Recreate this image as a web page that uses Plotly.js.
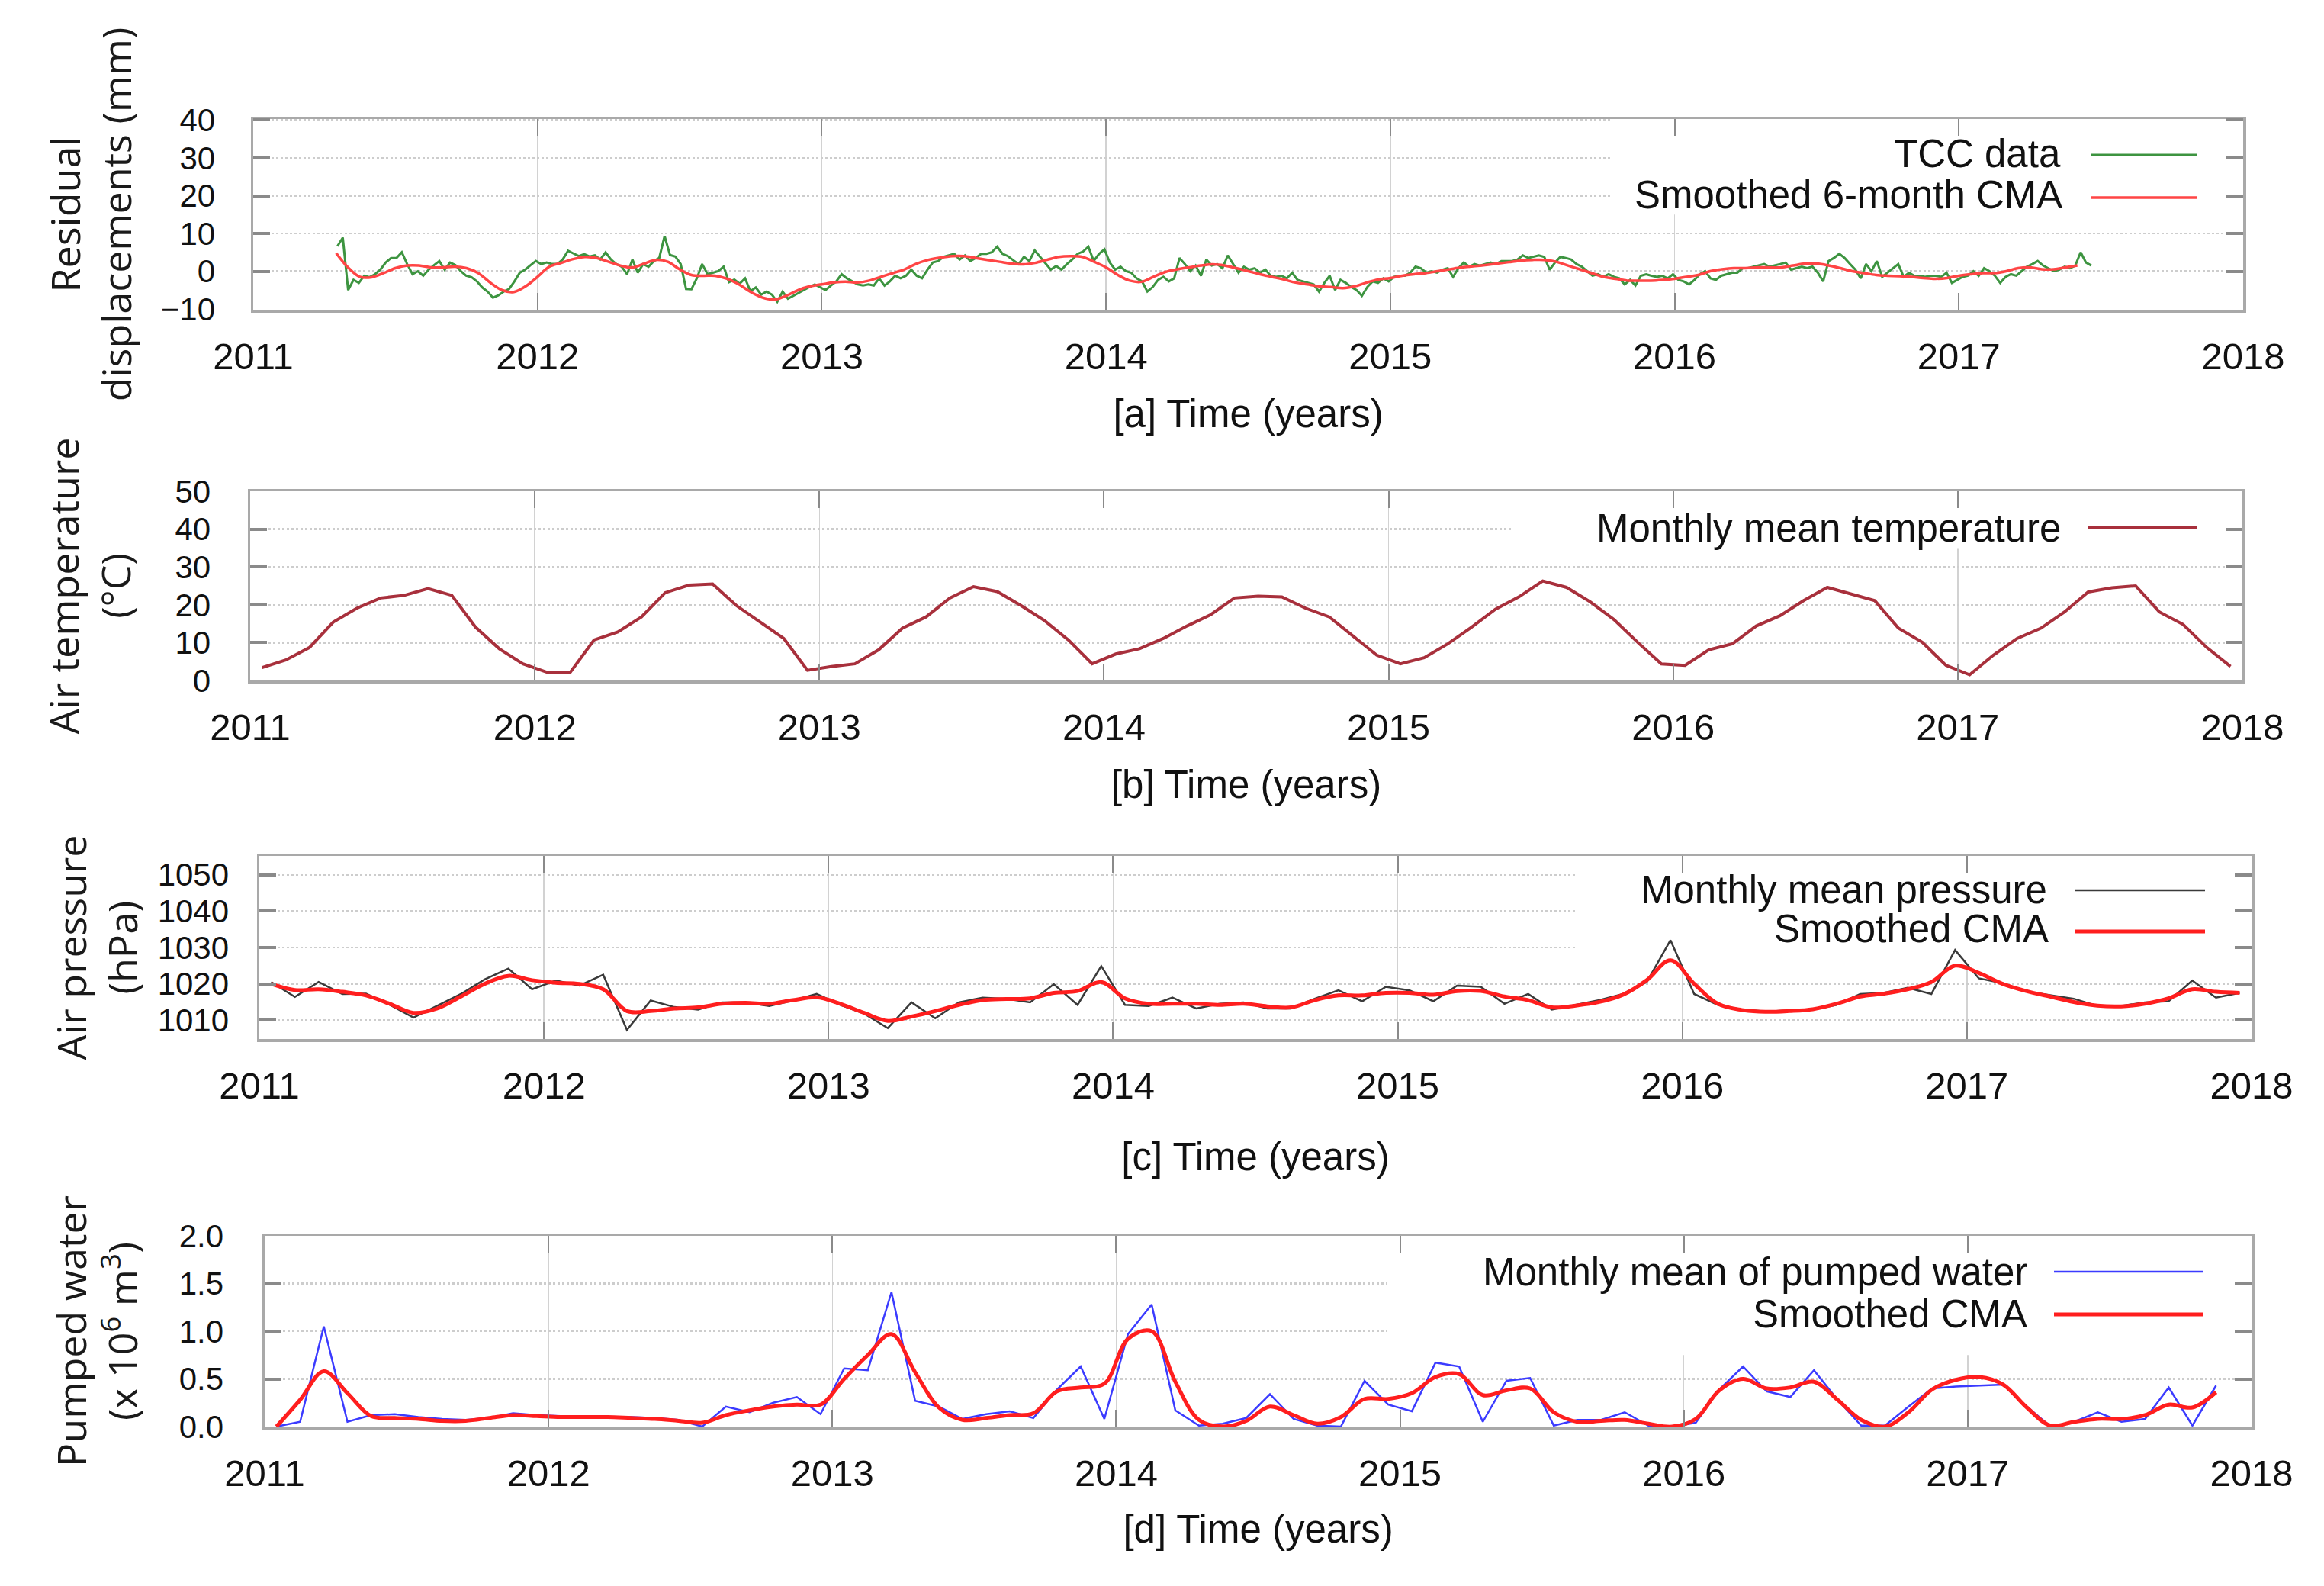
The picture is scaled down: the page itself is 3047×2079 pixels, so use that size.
<!DOCTYPE html>
<html><head><meta charset="utf-8">
<script src="https://cdn.plot.ly/plotly-3.0.1.min.js"></script>
<style>html,body{margin:0;padding:0;background:#fff;}#chart{width:3047px;height:2079px;}</style>
</head><body><div id="chart"></div>
<script>
// ---------------- DATA ----------------
// [a] TCC residual displacements (mm), ~weekly samples
const tccStart = 2011.2962;
const tccStep = 0.018868;
const tccValues = [
 6.6, 8.9, -5.0, -2.3, -3.1, -1.2, -1.6, -0.8, 0.4, 2.3,
 3.5, 3.5, 5.0, 1.9, -0.8, 0.0, -1.2, 0.4, 1.6, 2.7,
 0.4, 2.3, 1.6, 0.0, -1.2, -1.6, -2.7, -4.3, -5.4, -7.0,
 -6.4, -5.4, -4.7, -2.7, -0.4, 0.4, 1.6, 2.7, 1.9, 2.3,
 1.9, 1.9, 3.1, 5.4, 4.7, 4.0, 4.5, 3.9, 4.2, 3.1,
 5.0, 3.1, 1.9, 1.2, -0.8, 3.1, -0.4, 1.9, 1.2, 2.7,
 3.5, 9.3, 4.3, 3.9, 1.9, -4.7, -4.8, -1.9, 1.9, -0.8,
 -0.4, 0.0, 1.2, -2.9, -2.2, -3.3, -1.9, -5.3, -4.3, -6.2,
 -5.4, -6.2, -8.1, -5.4, -7.3, -6.5, -5.8, -5.0, -4.2, -3.5,
 -4.2, -5.0, -3.8, -2.7, -0.8, -1.9, -2.7, -3.5, -3.8, -3.5,
 -3.8, -1.9, -3.8, -2.7, -1.2, -1.9, -1.2, 0.4, -1.2, -1.9,
 0.4, 2.3, 2.7, 3.8, 4.2, 4.6, 3.1, 4.2, 2.7, 3.5,
 4.6, 4.6, 5.0, 6.5, 4.6, 4.0, 2.9, 1.9, 3.8, 2.7,
 5.5, 3.8, 1.9, 0.4, 1.4, 0.4, 1.9, 3.1, 4.6, 5.2,
 6.5, 2.7, 4.6, 5.8, 2.3, 0.4, 1.2, 0.0, -0.4, -1.9,
 -2.7, -5.4, -4.2, -2.3, -1.5, -2.7, -1.9, 3.5, 1.9, 0.0,
 1.5, -1.2, 3.1, 1.5, 1.9, 0.8, 4.2, 1.9, -0.4, 1.2,
 0.4, 0.8, -0.4, 0.4, -1.2, -1.5, -1.2, -1.9, -0.4, -2.3,
 -2.7, -3.1, -3.5, -5.4, -3.1, -1.2, -5.0, -2.3, -3.1, -4.2,
 -5.0, -6.5, -4.2, -2.7, -3.1, -1.9, -2.7, -1.5, -1.2, -1.2,
 -0.4, 1.2, 0.8, -0.4, 0.0, -0.4, 0.4, 0.8, -1.5, 0.8,
 2.3, 1.2, 1.9, 1.5, 1.9, 2.3, 1.9, 2.7, 2.7, 2.7,
 3.1, 4.2, 3.5,
 3.8, 4.2, 3.8, 0.4, 2.3, 3.8, 3.5, 3.1, 1.9, 1.2,
 0.0, -1.2, -0.8, -1.5, -0.8, -1.5, -1.9, -3.5, -2.3, -3.8,
 -1.2, -0.8, -1.2, -1.5, -1.2, -1.9, -0.8, -2.3, -2.7, -3.5,
 -2.3, -0.8, 0.0, -1.9, -2.3, -1.2, -0.8, -0.4, -0.4, 0.8,
 0.8, 1.2, 1.5, 1.9, 1.2, 1.5, 1.9, 2.3, 0.4, 0.8,
 1.2, 0.8, 1.2, -0.4, -2.7, 2.7, 3.5, 4.6, 3.5, 1.9,
 0.4, -1.9, 1.9, 0.0, 2.7, -1.5, -0.4, 0.8, 1.9, -1.5,
 -0.4, -1.2, -1.2, -1.5, -1.2, -1.2, -1.5, -0.4, -3.1, -2.3,
 -1.5, -1.2, 0.0, -1.2, 0.8, 0.0, -1.2, -3.1, -1.5, -0.8,
 -1.2, 0.0, 1.2, 1.9, 2.7, 1.5, 0.8, 0.0, 0.4, 1.2,
 0.8, 1.5, 5.0, 2.3, 1.5
];
// [a] Smoothed 6-month CMA, half-month samples
const cmaAStart = 2011.2917;
const cmaAStep = 1 / 24;
const cmaAValues = [
 4.8, 1.0, -1.5, -1.6, -0.5, 0.8, 1.5, 1.5, 1.0, 1.0,
 1.2, 0.8, -0.5, -3.0, -5.0, -5.5, -4.0, -1.5, 1.2, 2.2,
 3.2, 3.8, 3.5, 2.5, 1.5, 1.0, 2.0, 3.0, 2.5, 0.5,
 -1.0, -1.2, -1.2, -2.0, -3.5, -5.5, -7.0, -7.5, -6.5, -5.0,
 -4.0, -3.5, -3.0, -2.8, -3.0, -2.5, -1.5, -0.5, 0.5, 2.0,
 3.0, 3.6, 4.0, 4.0, 3.5, 3.0, 2.5, 2.0, 1.8, 2.2,
 3.0, 3.8, 4.0, 3.8, 2.5, 1.0, -1.0, -2.5, -2.8, -1.5,
 -0.2, 0.5, 1.0, 1.5, 1.8, 1.5, 0.8, 0.0, -0.8, -1.5,
 -2.2, -3.0, -3.5, -4.0, -4.2, -4.5, -4.0, -3.0, -2.2, -1.8,
 -1.2, -0.8, -0.5, 0.0, 0.5, 1.0, 1.3, 1.6, 2.0, 2.4,
 2.8, 3.0, 3.0, 2.5, 1.5, 0.5, -0.5, -1.5, -2.0, -2.5,
 -2.5, -2.5, -2.3, -2.0, -1.5, -1.0, 0.0, 0.5, 0.8, 0.8,
 1.0, 1.0, 1.0, 1.5, 2.0, 2.0, 1.5, 0.8, 0.0, -0.5,
 -1.0, -1.2, -1.3, -1.5, -1.8, -2.0, -1.8, -1.2, -0.8, -0.5,
 -0.5, 0.0, 0.8, 1.0, 0.5, 0.5, 1.0, 1.5
];
// monthly series, Jan 2011 onwards (mid-month)
const monthStart = 2011 + 1 / 24;
const monthStep = 1 / 12;
// [b] Monthly mean temperature (°C)
const temperature = [
 3.4, 5.4, 8.7, 15.4, 19.1, 21.8, 22.5, 24.3, 22.5, 14.1, 8.4, 4.4,
 2.2, 2.2, 10.7, 12.8, 16.8, 23.2, 25.2, 25.5, 19.8, 15.4, 11.1, 2.7,
 3.7, 4.4, 8.1, 13.8, 16.8, 21.8, 24.8, 23.5, 19.8, 15.8, 10.7, 4.4,
 7.0, 8.4, 11.1, 14.4, 17.4, 21.8, 22.3, 22.1, 19.1, 16.8, 11.7, 6.7,
 4.4, 6.0, 9.7, 14.1, 18.8, 22.1, 26.3, 24.6, 20.8, 16.1, 10.1, 4.4,
 4.0, 8.1, 9.7, 14.4, 17.1, 21.1, 24.6, 22.8, 21.1, 13.8, 10.1, 4.0,
 1.5, 6.7, 11.1, 13.8, 18.1, 23.4, 24.5, 25.0, 18.1, 14.8, 8.7, 3.7
];
// [c] Monthly mean pressure (hPa)
const pressure = [
 1020.5, 1016.4, 1020.5, 1017.2, 1017.3, 1014.2, 1010.7, 1013.9, 1017.2, 1021.2, 1024.2, 1018.5,
 1020.9, 1019.5, 1022.5, 1007.3, 1015.4, 1013.6, 1012.9, 1014.9, 1014.9, 1013.9, 1015.4, 1017.2,
 1014.2, 1011.8, 1007.8, 1014.9, 1010.5, 1014.9, 1016.2, 1015.9, 1014.9, 1019.9, 1014.2, 1024.9,
 1014.2, 1013.9, 1016.2, 1013.2, 1014.5, 1014.9, 1013.2, 1013.2, 1015.9, 1018.2, 1015.2, 1019.2,
 1018.2, 1015.2, 1019.5, 1019.2, 1014.5, 1017.2, 1012.9, 1014.2, 1015.5, 1017.2, 1020.5, 1032.0,
 1017.2, 1014.2, 1012.9, 1012.4, 1012.6, 1012.9, 1014.2, 1017.2, 1017.5, 1018.9, 1017.2, 1029.3,
 1021.5, 1020.2, 1017.9, 1016.9, 1015.9, 1013.9, 1013.9, 1014.9, 1015.2, 1020.9, 1016.2, 1017.5
];
const pressureCMA = [
 1020.0, 1018.3, 1018.5, 1017.8, 1016.8, 1014.5, 1012.0, 1013.2, 1016.5, 1020.0, 1022.2, 1021.0,
 1020.3, 1020.0, 1018.5, 1012.5, 1012.5, 1013.2, 1013.5, 1014.5, 1014.8, 1014.5, 1015.5, 1016.3,
 1014.5, 1012.0, 1009.8, 1011.0, 1012.5, 1014.2, 1015.5, 1015.8, 1016.0, 1017.5, 1018.0, 1020.5,
 1016.0, 1014.5, 1014.5, 1014.5, 1014.2, 1014.5, 1013.8, 1013.5, 1015.5, 1016.8, 1016.8, 1017.5,
 1017.5, 1017.0, 1018.0, 1018.0, 1016.5, 1015.5, 1013.5, 1014.0, 1015.0, 1017.0, 1021.0, 1026.5,
 1020.0, 1014.5, 1012.8, 1012.3, 1012.5, 1013.0, 1014.5, 1016.5, 1017.3, 1018.5, 1020.5, 1025.0,
 1023.0, 1020.0, 1018.0, 1016.5, 1015.0, 1014.0, 1013.8, 1014.5, 1016.0, 1018.5, 1017.8, 1017.5
];
// [d] Monthly mean of pumped water (x 10^6 m3)
const pumped = [
 0.00, 0.05, 1.05, 0.05, 0.12, 0.13, 0.10, 0.08, 0.07, 0.09, 0.14, 0.12,
 0.11, 0.10, 0.10, 0.10, 0.09, 0.07, 0.00, 0.21, 0.15, 0.25, 0.31, 0.13,
 0.61, 0.59, 1.41, 0.27, 0.21, 0.08, 0.13, 0.16, 0.09, 0.39, 0.63, 0.08,
 0.97, 1.28, 0.17, 0.01, 0.03, 0.09, 0.34, 0.08, 0.01, 0.00, 0.48, 0.23,
 0.16, 0.67, 0.63, 0.05, 0.48, 0.51, 0.01, 0.07, 0.07, 0.15, 0.01, 0.00,
 0.04, 0.39, 0.63, 0.37, 0.31, 0.59, 0.28, 0.01, 0.01, 0.21, 0.40, 0.42,
 0.43, 0.44, 0.21, 0.00, 0.05, 0.15, 0.05, 0.08, 0.41, 0.01, 0.43
];
const pumpedCMA = [
 0.00, 0.28, 0.58, 0.35, 0.11, 0.09, 0.08, 0.06, 0.06, 0.09, 0.12, 0.11,
 0.10, 0.10, 0.10, 0.09, 0.08, 0.06, 0.04, 0.12, 0.17, 0.21, 0.23, 0.23,
 0.50, 0.75, 0.97, 0.57, 0.20, 0.07, 0.09, 0.12, 0.14, 0.37, 0.41, 0.45,
 0.92, 1.00, 0.47, 0.07, 0.00, 0.06, 0.21, 0.12, 0.03, 0.10, 0.29, 0.29,
 0.35, 0.52, 0.55, 0.33, 0.38, 0.40, 0.15, 0.05, 0.06, 0.07, 0.03, 0.00,
 0.08, 0.38, 0.50, 0.40, 0.41, 0.47, 0.28, 0.07, 0.00, 0.15, 0.39, 0.49,
 0.52, 0.44, 0.20, 0.01, 0.05, 0.08, 0.08, 0.12, 0.23, 0.20, 0.36
];
const yearTicks = [2011, 2012, 2013, 2014, 2015, 2016, 2017, 2018];
const ticksA = [-10, 0, 10, 20, 30, 40];
const ticksB = [0, 10, 20, 30, 40, 50];
const ticksC = [1010, 1020, 1030, 1040, 1050];
const ticksD = [0, 0.5, 1.0, 1.5, 2.0];

// ---------------- STYLE ----------------
const W = 3047, H = 2079;
const TICKFONT = '"Liberation Sans", Arial, sans-serif';
const YTFONT = '"Open Sans", "Noto Sans", sans-serif';
const px = v => v / W, py = v => 1 - v / H;

function xAx(dom, anchor, title, tstand) {
  return {
    domain: dom, anchor: anchor, range: [2011, 2018], tickvals: yearTicks,
    tickformat: 'd', showgrid: true, gridcolor: '#d2d2d2', gridwidth: 1.5,
    showline: true, mirror: 'allticks', linecolor: '#a9a9a9', linewidth: 3.5,
    ticks: 'inside', ticklen: 22, tickwidth: 2, tickcolor: '#8a8a8a',
    tickfont: {family: TICKFONT, size: 49, color: '#111'}, ticklabelstandoff: 16,
    zeroline: false, automargin: false,
    title: {text: title, font: {family: TICKFONT, size: 51, color: '#111'}, standoff: tstand}
  };
}
function yAx(dom, anchor, range, vals, title, fmt, stand, tstand) {
  return {
    domain: dom, anchor: anchor, range: range, tickvals: vals, tickformat: fmt,
    showgrid: true, gridcolor: '#cdcdcd', gridwidth: 2.5, griddash: 'dot',
    showline: true, mirror: 'allticks', linecolor: '#a9a9a9', linewidth: 3.5,
    ticks: 'inside', ticklen: 22, tickwidth: 4, tickcolor: '#8a8a8a',
    tickfont: {family: TICKFONT, size: 42, color: '#111'}, ticklabelstandoff: stand,
    zeroline: false, automargin: false,
    title: {text: title, font: {family: YTFONT, size: 52, color: '#1a1a1a'}, standoff: tstand}
  };
}

const traces = [
  {x0: tccStart, dx: tccStep, y: tccValues, xaxis: 'x', yaxis: 'y', name: 'TCC data',
   line: {color: '#3d9440', width: 3}},
  {x0: cmaAStart, dx: cmaAStep, y: cmaAValues, xaxis: 'x', yaxis: 'y', name: 'Smoothed 6-month CMA',
   line: {color: '#ff4545', width: 3.5, shape: 'spline', smoothing: 1}},
  {x0: monthStart, dx: monthStep, y: temperature, xaxis: 'x2', yaxis: 'y2', name: 'Monthly mean temperature',
   line: {color: '#a8303c', width: 4}},
  {x0: monthStart, dx: monthStep, y: pressure, xaxis: 'x3', yaxis: 'y3', name: 'Monthly mean pressure',
   line: {color: '#3a3a3a', width: 2.5}},
  {x0: monthStart, dx: monthStep, y: pressureCMA, xaxis: 'x3', yaxis: 'y3', name: 'Smoothed CMA',
   line: {color: '#ff1e1e', width: 5, shape: 'spline', smoothing: 1}},
  {x0: monthStart, dx: monthStep, y: pumped, xaxis: 'x4', yaxis: 'y4', name: 'Monthly mean of pumped water',
   line: {color: '#3b3bff', width: 2.5}},
  {x0: monthStart, dx: monthStep, y: pumpedCMA, xaxis: 'x4', yaxis: 'y4', name: 'Smoothed CMA',
   line: {color: '#ff1e1e', width: 5, shape: 'spline', smoothing: 1}}
].map(t => Object.assign({type: 'scatter', mode: 'lines', showlegend: false, hoverinfo: 'skip'}, t));

// key entries: [label, right edge px, centre y px, sample x0, sample x1, sample y, colour, width]
const keys = [
  ['TCC data', 2704, 201, 2741, 2880, 203, '#3d9440', 3],
  ['Smoothed 6-month CMA', 2706, 256, 2741, 2880, 259, '#ff4545', 3.5],
  ['Monthly mean temperature', 2704, 692, 2738, 2880, 692, '#a8303c', 4],
  ['Monthly mean pressure', 2686, 1166, 2721, 2891, 1167, '#3a3a3a', 2.5],
  ['Smoothed CMA', 2688, 1217, 2721, 2891, 1221, '#ff1e1e', 5],
  ['Monthly mean of pumped water', 2660, 1667, 2693, 2889, 1667, '#3b3bff', 2.5],
  ['Smoothed CMA', 2660, 1722, 2693, 2889, 1723, '#ff1e1e', 5]
];
const annotations = keys.map(k => ({
  xref: 'paper', yref: 'paper', x: px(k[1]), y: py(k[2]), xanchor: 'right', yanchor: 'middle',
  text: k[0], showarrow: false, font: {family: TICKFONT, size: 51, color: '#111'}
}));
const shapes = keys.map(k => ({
  type: 'line', xref: 'paper', yref: 'paper', x0: px(k[3]), x1: px(k[4]), y0: py(k[5]), y1: py(k[5]),
  line: {color: k[6], width: k[7]}
}));
// white key boxes (cover gridlines, stay under the data)
[['x', 'y', 2015.775, 15], ['x2', 'y2', 2015.433, 35], ['x3', 'y3', 2015.627, 1025], ['x4', 'y4', 2014.953, 0.75]]
  .forEach((b, i) => {
    const top = [40.3, 50, 1055.2, 2.0][i];
    shapes.push({type: 'rect', xref: b[0], yref: b[1], x0: b[2], x1: 2017.95, y0: b[3], y1: top,
      fillcolor: '#ffffff', line: {width: 0}, layer: 'between'});
  });

const layout = {
  width: W, height: H, margin: {l: 0, r: 0, t: 0, b: 0},
  paper_bgcolor: '#ffffff', plot_bgcolor: '#ffffff', showlegend: false,
  xaxis: xAx([px(332), px(2941)], 'y', '[a] Time (years)', 32),
  yaxis: yAx([py(406), py(156)], 'x', [-10.2, 40.3], ticksA, 'Residual<br>displacements (mm)', 'd', 38, 22),
  xaxis2: xAx([px(328), px(2940)], 'y2', '[b] Time (years)', 32),
  yaxis2: yAx([py(892), py(644)], 'x2', [0, 50], ticksB, 'Air temperature<br>(°C)', 'd', 40, 42),
  xaxis3: xAx([px(340), px(2952)], 'y3', '[c] Time (years)', 50),
  yaxis3: yAx([py(1362), py(1122)], 'x3', [1004.8, 1055.2], ticksC, 'Air pressure<br>(hPa)', 'd', 28, 10),
  xaxis4: xAx([px(347), px(2952)], 'y4', '[d] Time (years)', 30),
  yaxis4: yAx([py(1870), py(1620)], 'x4', [0, 2.0], ticksD, 'Pumped water<br>(x 10<sup>6</sup> m<sup>3</sup>)', '.1f', 42, 38),
  annotations: annotations, shapes: shapes
};
Plotly.newPlot('chart', traces, layout, {staticPlot: true, displayModeBar: false});
</script></body></html>
